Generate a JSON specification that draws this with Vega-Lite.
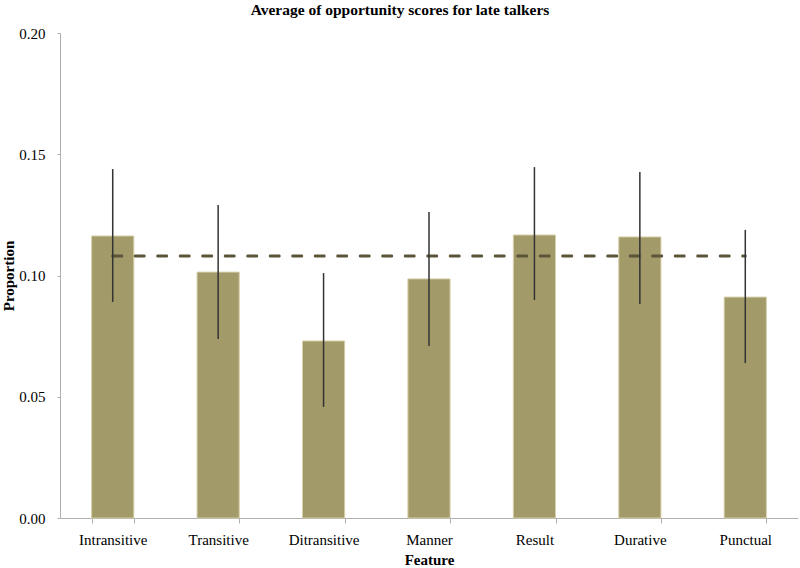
{
  "$schema": "https://vega.github.io/schema/vega-lite/v6.json",
  "width": 738,
  "height": 485,
  "autosize": "none",
  "padding": {"left": 60, "top": 33, "right": 2, "bottom": 50},
  "background": "white",
  "title": {
    "text": "Average of opportunity scores for late talkers",
    "font": "Liberation Serif",
    "fontSize": 15.5,
    "fontWeight": "bold",
    "color": "black",
    "anchor": "middle",
    "dx": -29,
    "offset": 8
  },
  "config": {
    "view": {"stroke": null},
    "axis": {
      "labelFont": "Liberation Serif",
      "titleFont": "Liberation Serif",
      "labelFontSize": 15,
      "titleFontSize": 15,
      "labelColor": "black",
      "titleColor": "black",
      "domainColor": "#b0b0b0",
      "tickColor": "#b0b0b0",
      "grid": false
    }
  },
  "data": {
    "values": [
      {"feature": "Intransitive", "mean": 0.1163, "lo": 0.0891, "hi": 0.1439, "avg": 0.108},
      {"feature": "Transitive", "mean": 0.1014, "lo": 0.0738, "hi": 0.1291, "avg": 0.108},
      {"feature": "Ditransitive", "mean": 0.0730, "lo": 0.0458, "hi": 0.1010, "avg": 0.108},
      {"feature": "Manner", "mean": 0.0986, "lo": 0.0709, "hi": 0.1262, "avg": 0.108},
      {"feature": "Result", "mean": 0.1167, "lo": 0.0899, "hi": 0.1447, "avg": 0.108},
      {"feature": "Durative", "mean": 0.1159, "lo": 0.0882, "hi": 0.1427, "avg": 0.108},
      {"feature": "Punctual", "mean": 0.0911, "lo": 0.0639, "hi": 0.1188, "avg": 0.108}
    ]
  },
  "encoding": {
    "x": {
      "field": "feature",
      "type": "nominal",
      "sort": null,
      "title": "Feature",
      "scale": {"paddingInner": 0.6, "paddingOuter": 0.3},
      "axis": {
        "labelAngle": 0,
        "tickBand": "extent",
        "tickSize": 5,
        "labelPadding": 9,
        "titlePadding": 5,
        "titleFontWeight": "bold"
      }
    }
  },
  "layer": [
    {
      "mark": {"type": "bar", "color": "#a39a6a", "stroke": "#d6cfa9", "strokeWidth": 1},
      "encoding": {
        "y": {
          "field": "mean",
          "type": "quantitative",
          "title": "Proportion",
          "scale": {"domain": [0, 0.2]},
          "axis": {
            "values": [0, 0.05, 0.1, 0.15, 0.2],
            "format": ".2f",
            "tickSize": 3,
            "labelPadding": 12,
            "titlePadding": 2,
            "titleFontWeight": "bold"
          }
        }
      }
    },
    {
      "mark": {"type": "line", "color": "#5a5438", "strokeWidth": 3, "strokeDash": [9, 13.5], "strokeCap": "round"},
      "encoding": {
        "y": {"field": "avg", "type": "quantitative"}
      }
    },
    {
      "mark": {"type": "rule", "color": "#333333", "strokeWidth": 1.5},
      "encoding": {
        "y": {"field": "lo", "type": "quantitative"},
        "y2": {"field": "hi"}
      }
    }
  ]
}
